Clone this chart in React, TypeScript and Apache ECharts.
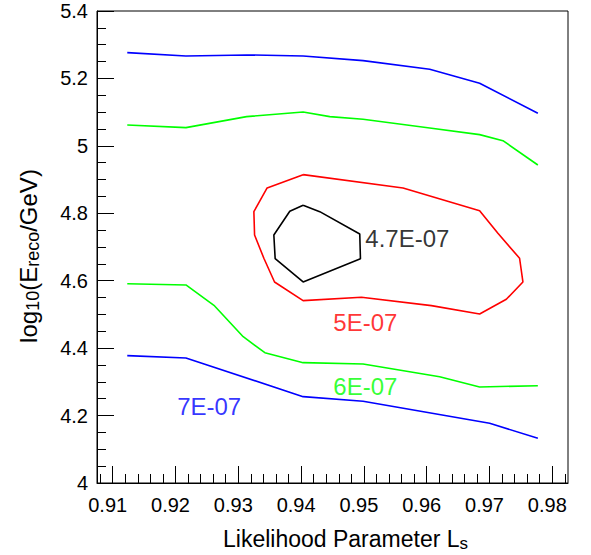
import React, { useEffect, useRef } from 'react';
import * as echarts from 'echarts';

// Axis ticks
const xMajorTicks = [0.91, 0.92, 0.93, 0.94, 0.95, 0.96, 0.97, 0.98];
const xMinorTicks = [
  0.908, 0.912, 0.914, 0.916, 0.918, 0.922, 0.924, 0.926, 0.928,
  0.932, 0.934, 0.936, 0.938, 0.942, 0.944, 0.946, 0.948,
  0.952, 0.954, 0.956, 0.958, 0.962, 0.964, 0.966, 0.968,
  0.972, 0.974, 0.976, 0.978, 0.982,
];

// Contour lines [Ls, log10(E)]
const contour7Upper: [number, number][] = [
  [0.91232, 5.2765], [0.92166, 5.2667], [0.93132, 5.2697], [0.94032, 5.2667],
  [0.94987, 5.2528], [0.96048, 5.2272], [0.96843, 5.1857], [0.9777, 5.0967],
];
const contour6Upper: [number, number][] = [
  [0.91232, 5.062], [0.92166, 5.054], [0.93132, 5.0866], [0.94032, 5.1006],
  [0.94457, 5.0866], [0.94987, 5.0789], [0.96048, 5.0531], [0.96843, 5.0333],
  [0.97214, 5.0154], [0.9777, 4.9433],
];
const contour6Lower: [number, number][] = [
  [0.91232, 4.5912], [0.92166, 4.5874], [0.92612, 4.5271], [0.93078, 4.434],
  [0.93423, 4.3865], [0.94032, 4.3569], [0.94987, 4.353], [0.96206, 4.3153],
  [0.96843, 4.2848], [0.9777, 4.2886],
];
const contour7Lower: [number, number][] = [
  [0.91232, 4.3777], [0.92166, 4.3708], [0.94032, 4.2561], [0.94987, 4.2424],
  [0.97002, 4.1771], [0.9777, 4.1326],
];
const contour5: [number, number][] = [
  [0.94032, 4.9146], [0.93459, 4.8751], [0.93248, 4.8048], [0.93259, 4.7357],
  [0.93407, 4.6666], [0.93577, 4.5963], [0.94032, 4.5408], [0.94961, 4.5509],
  [0.96075, 4.526], [0.96843, 4.5013], [0.97268, 4.5449], [0.97532, 4.5963],
  [0.97479, 4.6666], [0.97134, 4.7407], [0.96843, 4.8078], [0.95623, 4.8751],
  [0.94032, 4.9146],
];
const contour47: [number, number][] = [
  [0.94032, 4.8238], [0.9382, 4.806], [0.93566, 4.7357], [0.93587, 4.6654],
  [0.94032, 4.5963], [0.94945, 4.6654], [0.94934, 4.7387], [0.94297, 4.8048],
  [0.94032, 4.8238],
];

// Contour level labels
const labelTexts = ['4.7E-07', '5E-07', '6E-07', '7E-07'];
const labelPos: [number, number][] = [
  [0.95014, 4.7238], [0.94505, 4.4761], [0.94505, 4.2877], [0.92018, 4.2269],
];
const labelColors = ['#000000', '#ff0000', '#00ff00', '#0000ff'];

const FONT = "'Liberation Sans', Arial, Helvetica, sans-serif";

export default function App() {
  const ref = useRef<HTMLDivElement>(null);
  useEffect(() => {
    if (!ref.current) return;
    const chart = echarts.init(ref.current, undefined, { renderer: 'svg' });
    const line = (data: [number, number][], color: string) => ({
      type: 'line',
      data,
      showSymbol: false,
      symbol: 'none',
      lineStyle: { color, width: 1.6 },
      xAxisIndex: 0,
      yAxisIndex: 0,
      z: 3,
    });
    chart.setOption({
      animation: false,
      backgroundColor: '#ffffff',
      grid: {
        left: 97, top: 11, width: 471, height: 472,
        show: true, borderColor: '#000', borderWidth: 1, backgroundColor: 'transparent',
      },
      xAxis: [
        {
          type: 'value', min: 0.9075, max: 0.9825, position: 'bottom',
          axisLine: { show: true, onZero: false, lineStyle: { color: '#000', width: 1 } },
          axisTick: { show: true, inside: true, length: 17, customValues: xMajorTicks, lineStyle: { color: '#000' } },
          axisLabel: {
            show: true, customValues: xMajorTicks, margin: 12,
            formatter: (v: number) => v.toFixed(2),
            color: '#000', fontSize: 20, fontFamily: FONT, padding: [0, 10, 0, 0],
          },
          splitLine: { show: false },
        },
        {
          type: 'value', min: 0.9075, max: 0.9825, position: 'bottom',
          axisLine: { show: false, onZero: false },
          axisTick: { show: true, inside: true, length: 9, customValues: xMinorTicks, lineStyle: { color: '#000' } },
          axisLabel: { show: false },
          splitLine: { show: false },
        },
      ],
      yAxis: {
        type: 'value', min: 4, max: 5.4, interval: 0.2,
        axisLine: { show: true, onZero: false, lineStyle: { color: '#000', width: 1 } },
        axisTick: { show: true, inside: true, length: 17, lineStyle: { color: '#000' } },
        minorTick: { show: true, splitNumber: 4, length: 9, lineStyle: { color: '#000' } },
        axisLabel: { color: '#000', fontSize: 20, fontFamily: FONT, margin: 9 },
        splitLine: { show: false },
        minorSplitLine: { show: false },
      },
      series: [
        line(contour7Upper, '#0000ff'),
        line(contour6Upper, '#00ff00'),
        line(contour6Lower, '#00ff00'),
        line(contour7Lower, '#0000ff'),
        line(contour5, '#ff0000'),
        line(contour47, '#000000'),
        {
          type: 'scatter',
          symbolSize: 1,
          itemStyle: { color: 'rgba(0,0,0,0)' },
          data: labelTexts.map((t, i) => ({
            name: t,
            value: labelPos[i],
            label: { color: labelColors[i] },
          })),
          label: {
            show: true, position: 'right', distance: 0,
            formatter: (p: any) => p.name,
            fontSize: 24, fontFamily: FONT,
          },
          z: 4,
        },
      ],
      graphic: [
        {
          type: 'text',
          left: 223,
          top: 527,
          style: {
            text: '{a|Likelihood Parameter L}{b|s}',
            rich: {
              a: { fontSize: 23, fontWeight: 'normal', fontFamily: FONT, fill: '#000', verticalAlign: 'bottom', padding: [0, 0, 2, 0] },
              b: { fontSize: 17, fontWeight: 'normal', fontFamily: FONT, fill: '#000', verticalAlign: 'bottom' },
            },
          },
        },
        {
          type: 'text',
          x: 29,
          y: 256,
          rotation: Math.PI / 2,
          style: {
            text: '{a|log}{b|10}{a|(E}{b|reco}{a|/GeV)}',
            align: 'center',
            verticalAlign: 'middle',
            fontWeight: 'normal',
            rich: {
              a: { fontSize: 24, fontWeight: 'normal', fontFamily: FONT, fill: '#000', verticalAlign: 'bottom', padding: [0, 0, 2, 0] },
              b: { fontSize: 18, fontWeight: 'normal', fontFamily: FONT, fill: '#000', verticalAlign: 'bottom' },
            },
          },
        },
      ],
    });
    return () => chart.dispose();
  }, []);
  return (
    <div
      ref={ref}
      style={{ position: 'fixed', left: 0, top: 0, width: 591, height: 555, background: '#fff' }}
    />
  );
}
